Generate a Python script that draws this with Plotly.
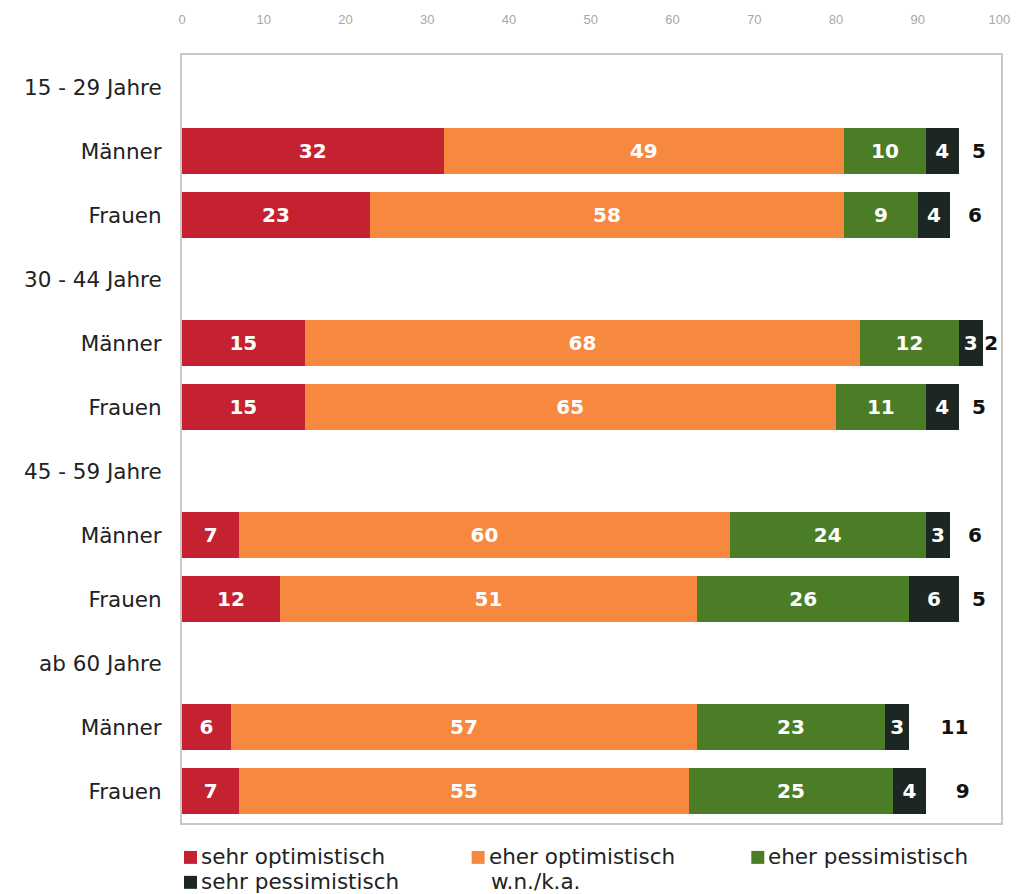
import plotly.graph_objects as go

# Row labels (group headers followed by the two sex rows)
rows = ["15 - 29 Jahre", "Männer", "Frauen",
        "30 - 44 Jahre", "Männer", "Frauen",
        "45 - 59 Jahre", "Männer", "Frauen",
        "ab 60 Jahre", "Männer", "Frauen"]

series_names = ["sehr optimistisch", "eher optimistisch", "eher pessimistisch",
                "sehr pessimistisch", "w.n./k.a."]

# Percentages per row (None for header rows)
sehr_optimistisch = [None, 32, 23, None, 15, 15, None, 7, 12, None, 6, 7]
eher_optimistisch = [None, 49, 58, None, 68, 65, None, 60, 51, None, 57, 55]
eher_pessimistisch = [None, 10, 9, None, 12, 11, None, 24, 26, None, 23, 25]
sehr_pessimistisch = [None, 4, 4, None, 3, 4, None, 3, 6, None, 3, 4]
wn_ka = [None, 5, 6, None, 2, 5, None, 6, 5, None, 11, 9]

x_ticks = [0, 10, 20, 30, 40, 50, 60, 70, 80, 90, 100]

colors = ["#c42230", "#f7883f", "#4b7d26", "#1c2623", "rgba(255,255,255,0)"]
text_colors = ["white", "white", "white", "white", "#111111"]

series = [sehr_optimistisch, eher_optimistisch, eher_pessimistisch,
          sehr_pessimistisch, wn_ka]

ypos = list(range(len(rows)))

fig = go.Figure()
for name, vals, col, tcol in zip(series_names, series, colors, text_colors):
    fig.add_trace(go.Bar(
        y=ypos, x=vals, orientation="h", name=name,
        marker=dict(color=col, line=dict(width=0)),
        text=[("" if v is None else str(v)) for v in vals],
        textposition="inside", insidetextanchor="middle",
        constraintext="none", cliponaxis=False,
        textfont=dict(family="DejaVu Sans", size=20, color=tcol, weight="bold"),
        showlegend=False,
    ))

L, R, T, B = 182, 20, 53, 71
W, H = 1022, 894

fig.update_layout(
    width=W, height=H,
    barmode="stack", bargap=0.285,
    margin=dict(l=L, r=R, t=T, b=B),
    paper_bgcolor="white", plot_bgcolor="white",
    font=dict(family="DejaVu Sans", size=21, color="#222222"),
)

fig.update_xaxes(
    side="top", range=[0, 100.2], tickvals=x_ticks,
    ticks="outside", ticklen=24, tickcolor="rgba(255,255,255,0)",
    tickfont=dict(family="Liberation Sans Narrow, Liberation Sans", size=13, color="#a8a8a8"),
    showgrid=False, zeroline=False,
    showline=True, linecolor="#c8c8c8", linewidth=2, mirror=True,
)
fig.update_yaxes(
    tickvals=ypos, ticktext=rows, range=[len(rows) - 0.5, -0.5],
    ticks="outside", ticklen=14, tickcolor="rgba(255,255,255,0)",
    tickfont=dict(family="DejaVu Sans", size=21.5, color="#222222"),
    showgrid=False, zeroline=False,
    showline=True, linecolor="#c8c8c8", linewidth=2, mirror=True,
)

# Legend drawn below the plot: coloured squares with labels
pw = W - L - R
ph = H - T - B


def px_x(px):
    return (px - L) / pw


def px_y(py):
    return (H - B - py) / ph


legend_items = [
    (series_names[0], colors[0], 184, 857),
    (series_names[1], colors[1], 472, 857),
    (series_names[2], colors[2], 752, 857),
    (series_names[3], colors[3], 184, 882),
    (series_names[4], None, 474, 882),
]
for name, col, x0, yc in legend_items:
    if col is not None:
        fig.add_shape(type="rect", xref="paper", yref="paper",
                      x0=px_x(x0), x1=px_x(x0 + 13),
                      y0=px_y(yc + 7), y1=px_y(yc - 6),
                      fillcolor=col, line=dict(width=0))
    fig.add_annotation(xref="paper", yref="paper",
                       x=px_x(x0 + 15), y=px_y(yc), text=name,
                       showarrow=False, xanchor="left", yanchor="middle",
                       font=dict(family="DejaVu Sans", size=21.5, color="#222222"))

fig.write_html("out.html")
